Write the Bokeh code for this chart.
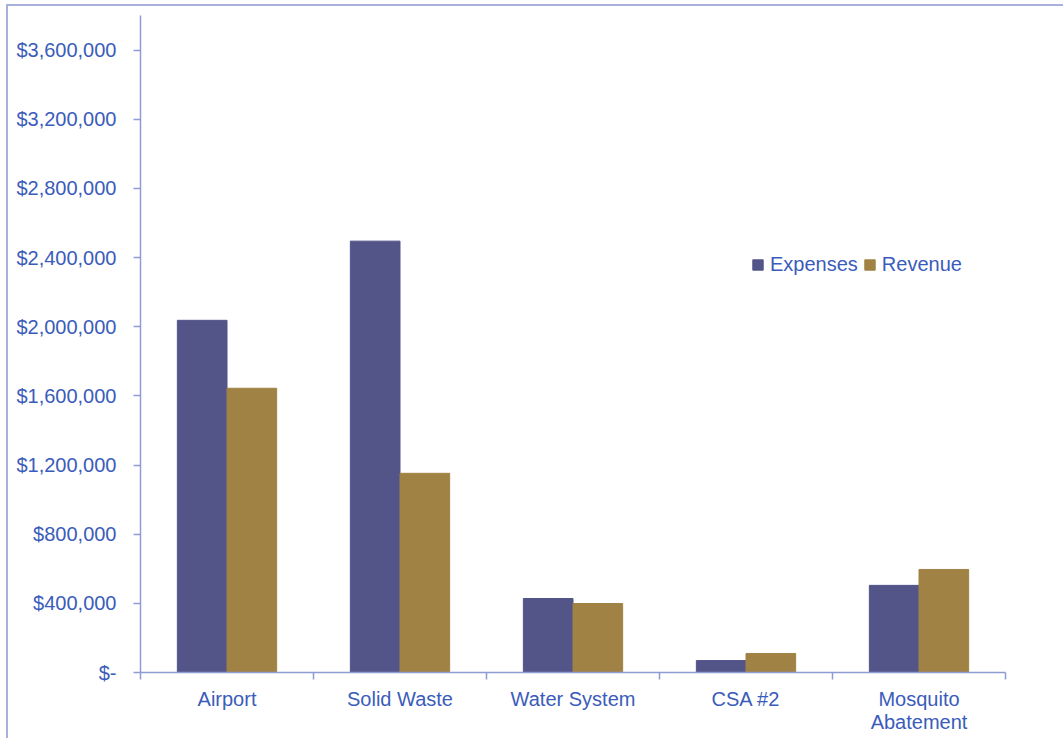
from bokeh.plotting import figure
from bokeh.models import ColumnDataSource, FixedTicker, Legend, LegendItem, Range1d
from bokeh.embed import file_html
from bokeh.resources import INLINE

categories = ["Airport", "Solid Waste", "Water System", "CSA #2", "Mosquito\nAbatement"]
expenses = [2037000, 2495000, 428000, 69000, 504000]
revenue = [1644000, 1152000, 399000, 110000, 596000]
y_ticks = [0, 400000, 800000, 1200000, 1600000, 2000000, 2400000, 2800000, 3200000, 3600000]
y_labels = ["$-", "$400,000", "$800,000", "$1,200,000", "$1,600,000", "$2,000,000",
            "$2,400,000", "$2,800,000", "$3,200,000", "$3,600,000"]

TEXT = "#3A5CBA"
AXIS = "#8F9BD3"
BORDER = "#A8B0DC"
FONT = "Liberation Sans"

idx = list(range(len(categories)))
centers = [i + 0.5 for i in idx]
bw = 0.287
src = ColumnDataSource(dict(
    x_exp=[c - bw / 2 for c in centers],
    x_rev=[c + bw / 2 for c in centers],
    expenses=expenses,
    revenue=revenue,
))

p = figure(width=1063, height=738, output_backend="svg", toolbar_location=None,
           x_range=Range1d(0, len(categories)), y_range=Range1d(0, 3800000),
           min_border_left=140, min_border_top=15, min_border_right=58, min_border_bottom=66)
p.outline_line_color = None
p.grid.visible = False
p.border_fill_color = None
p.background_fill_color = "white"

# chart-area border (top and left edges visible in the window), drawn as CSS background
grad = f"linear-gradient({BORDER}, {BORDER})"
p.styles = {
    "background-color": "white",
    "background-image": f"{grad}, {grad}",
    "background-size": "1060px 2px, 2px 738px",
    "background-position": "6px 4px, 6px 4px",
    "background-repeat": "no-repeat",
}

r1 = p.vbar(x="x_exp", top="expenses", width=bw, source=src, color="#535488")
r2 = p.vbar(x="x_rev", top="revenue", width=bw, source=src, color="#A08244")

# x axis
xt = FixedTicker(ticks=centers, minor_ticks=[float(i) for i in range(len(categories) + 1)])
p.xaxis.ticker = xt
p.xaxis.major_label_overrides = {c: n for c, n in zip(centers, categories)}
p.xaxis.major_tick_out = 0
p.xaxis.major_tick_in = 0
p.xaxis.minor_tick_out = 7
p.xaxis.minor_tick_in = 0
p.xaxis.minor_tick_line_color = AXIS
p.xaxis.major_label_standoff = 8
p.xaxis.major_label_text_line_height = 1.05

# y axis
p.yaxis.ticker = FixedTicker(ticks=y_ticks, minor_ticks=[])
p.yaxis.major_label_overrides = {t: l for t, l in zip(y_ticks, y_labels)}
p.yaxis.major_tick_out = 7
p.yaxis.major_tick_in = 0
p.yaxis.minor_tick_out = 0
p.yaxis.major_label_standoff = 17

for ax in (p.xaxis, p.yaxis):
    ax.axis_line_color = AXIS
    ax.axis_line_width = 1.5
    ax.major_tick_line_color = AXIS
    ax.major_tick_line_width = 1.5
    ax.major_label_text_color = TEXT
    ax.major_label_text_font = FONT
    ax.major_label_text_font_size = "20px"
p.xaxis.minor_tick_line_width = 1.5

legend = Legend(items=[LegendItem(label="Expenses", renderers=[r1]),
                       LegendItem(label="Revenue", renderers=[r2])],
                location=(611, 396), orientation="horizontal",
                border_line_color=None, background_fill_alpha=0,
                label_text_font=FONT, label_text_font_size="20px", label_text_color=TEXT,
                glyph_width=13, glyph_height=13, padding=0, margin=0, spacing=5,
                label_standoff=6)
p.add_layout(legend, "center")

open("out.html", "w").write(file_html(p, INLINE))
